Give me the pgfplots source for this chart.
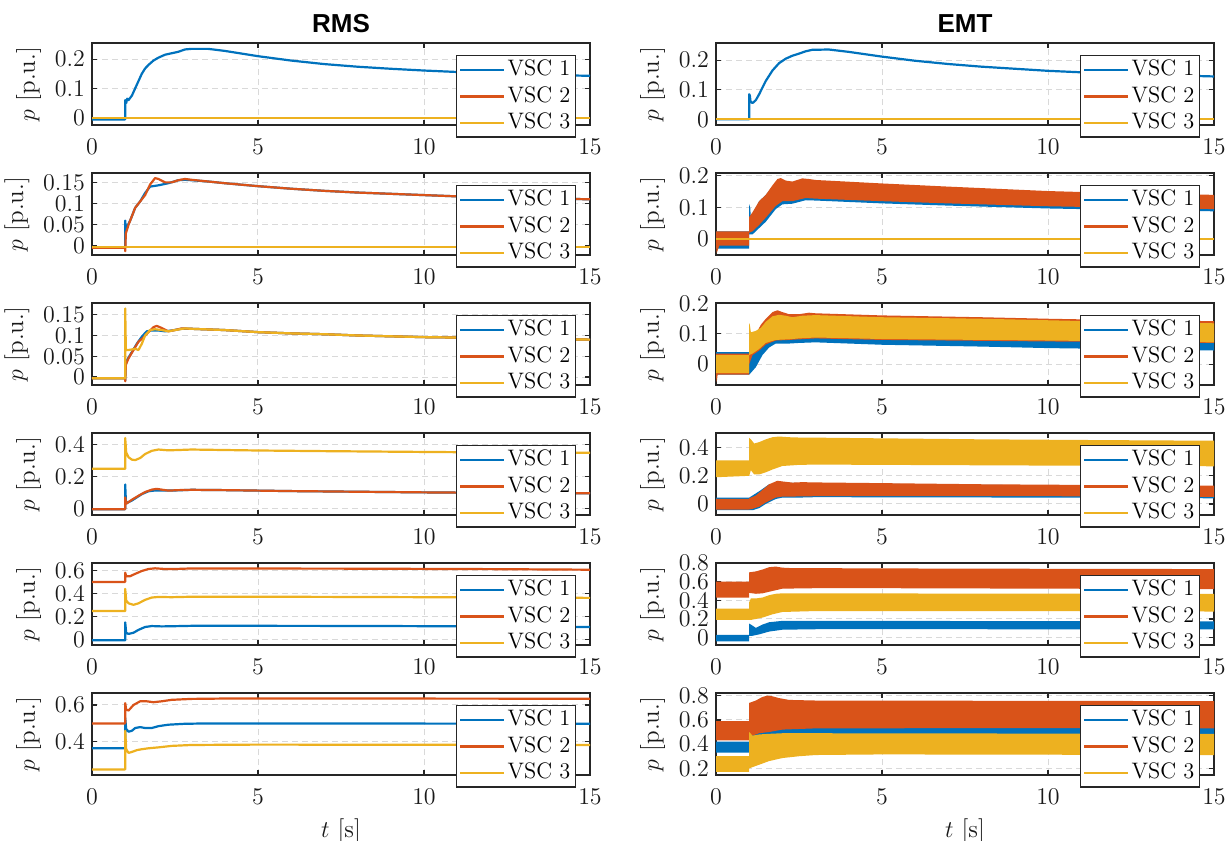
\documentclass[border=0pt]{standalone}
\usepackage{fontspec}
\usepackage{pgfplots}
\pgfplotsset{compat=1.18}
\newfontfamily\titlefont{Liberation Sans}
\definecolor{c1}{rgb}{0,0.447,0.741}
\definecolor{c2}{rgb}{0.85,0.325,0.098}
\definecolor{c3}{rgb}{0.929,0.694,0.125}
\definecolor{axc}{rgb}{0.15,0.15,0.15}
\pgfplotsset{
  myax/.style={
    scale only axis, width=249pt, height=41pt,
    xmin=0, xmax=15, xtick={0,5,10,15},
    grid=major, major grid style={dash pattern=on 3pt off 2pt, black!15, line width=0.5pt},
    tick align=inside, major tick length=2.5pt,
    axis line style={axc, line width=0.7pt},
    tick style={axc, line width=0.6pt},
    ticklabel style={font=\fontsize{11.5}{12}\selectfont, text=black!90},
    x tick label style={yshift=-3.5pt},
    label style={font=\fontsize{12.5}{13}\selectfont, text=black!90},
    ylabel={$p$ [p.u.]},
    y tick label style={/pgf/number format/.cd, fixed, precision=2},
    legend style={at={(0.972,0.854)}, anchor=north east,
      draw=axc, line width=0.6pt, fill=white,
      font=\fontsize{11.2}{12}\selectfont,
      inner xsep=1.5pt, inner ysep=0.5pt, row sep=0pt,
      nodes={inner xsep=1pt, inner ysep=0pt, text height=9.5pt, text depth=3.75pt}},
    legend cell align=left,
    legend image code/.code={\draw[##1] (0pt,0pt) -- (22pt,0pt);},
    title style={at={(0.5,1)}, anchor=base, yshift=-0.5pt, font=\titlefont\bfseries\fontsize{13}{15}\selectfont},
  },
  band/.style={draw=none, fill=#1, forget plot},
  ln/.style={#1, line width=1.1pt, forget plot, line join=round},
}
\newcommand{\legimgs}{%
  \addlegendimage{c1, line width=1.3pt}
  \addlegendimage{c2, line width=1.3pt}
  \addlegendimage{c3, line width=1.3pt}}
\begin{document}
\begin{tikzpicture}
\path[use as bounding box] (0,0) rectangle (613.5pt,-420.5pt);
% ===================== Row 1 =====================
\begin{axis}[myax, at={(46pt,-21.5pt)}, anchor=north west, title={RMS},
  ymin=-0.025, ymax=0.255, ytick={0,0.1,0.2}]
\legimgs
\addplot[ln=c1] coordinates {(0,-0.006)(0.999,-0.006)(1.0,0.06)(1.03,0.05)(1.06,0.065)(1.1,0.06)(1.2,0.075)(1.3,0.1)(1.4,0.125)(1.5,0.15)(1.6,0.168)(1.7,0.18)(1.85,0.195)(2.0,0.205)(2.2,0.215)(2.4,0.22)(2.6,0.225)(2.8,0.233)(3.0,0.235)(3.5,0.235)(4.0,0.228)(4.5,0.219)(5,0.21)(6,0.195)(7,0.183)(8,0.174)(9,0.167)(10,0.161)(11,0.156)(12,0.152)(13,0.148)(14,0.145)(15,0.143)};
\addplot[ln=c2] coordinates {(0,-0.002)(15,-0.002)};
\addplot[ln=c3] coordinates {(0,-0.002)(15,-0.002)};
\legend{VSC 1,VSC 2,VSC 3}
\end{axis}
\begin{axis}[myax, at={(358pt,-21.5pt)}, anchor=north west, title={EMT},
  ymin=-0.019, ymax=0.258, ytick={0,0.1,0.2}]
\legimgs
\addplot[ln=c1] coordinates {(0,0)(0.999,0)(1.0,0.085)(1.02,0.08)(1.04,0.06)(1.1,0.055)(1.2,0.065)(1.3,0.085)(1.5,0.13)(1.7,0.165)(1.9,0.19)(2.1,0.205)(2.3,0.215)(2.5,0.222)(2.7,0.23)(2.9,0.235)(3.4,0.236)(4,0.228)(5,0.212)(6,0.198)(7,0.187)(8,0.178)(9,0.171)(10,0.164)(11,0.159)(12,0.154)(13,0.151)(14,0.148)(15,0.145)};
\addplot[ln=c2] coordinates {(0,0)(15,0)};
\addplot[ln=c3] coordinates {(0,0)(15,0)};
\legend{VSC 1,VSC 2,VSC 3}
\end{axis}
% ===================== Row 2 =====================
\begin{axis}[myax, at={(46pt,-86.5pt)}, anchor=north west,
  ymin=-0.021, ymax=0.172, ytick={0,0.05,0.1,0.15}]
\legimgs
\addplot[ln=c1] coordinates {(0,-0.004)(0.999,-0.004)(1.0,0.06)(1.02,0.04)(1.05,0.045)(1.15,0.06)(1.3,0.09)(1.45,0.105)(1.6,0.125)(1.75,0.14)(2.0,0.143)(2.3,0.148)(2.6,0.155)(2.8,0.156)(3.0,0.155)(3.5,0.152)(4,0.148)(5,0.141)(6,0.135)(7,0.13)(8,0.126)(9,0.123)(10,0.12)(11,0.117)(12,0.115)(13,0.113)(14,0.112)(15,0.11)};
\addplot[ln=c2] coordinates {(0,-0.004)(0.999,-0.004)(1.0,-0.012)(1.02,0.03)(1.1,0.05)(1.3,0.09)(1.45,0.105)(1.6,0.12)(1.75,0.145)(1.9,0.16)(2.0,0.158)(2.2,0.15)(2.4,0.15)(2.6,0.155)(2.8,0.158)(3.0,0.156)(3.5,0.152)(4,0.148)(5,0.141)(6,0.135)(7,0.13)(8,0.126)(9,0.123)(10,0.12)(11,0.117)(12,0.115)(13,0.113)(14,0.112)(15,0.11)};
\addplot[ln=c3] coordinates {(0,-0.002)(15,-0.002)};
\legend{VSC 1,VSC 2,VSC 3}
\end{axis}
\begin{axis}[myax, at={(358pt,-86.5pt)}, anchor=north west,
  ymin=-0.05, ymax=0.209, ytick={0,0.1,0.2}]
\legimgs
\addplot[band=c1] coordinates {(0,0.025)(0.999,0.025)(1.0,0.11)(1.03,0.1)(1.05,0.07)(1.3,0.12)(1.5,0.14)(1.7,0.165)(1.9,0.185)(2.0,0.185)(2.3,0.178)(2.6,0.185)(2.8,0.186)(3,0.182)(5,0.17)(7,0.16)(10,0.147)(12,0.142)(15,0.137)
 (15,0.088)(12,0.093)(10,0.097)(7,0.106)(5,0.113)(3,0.122)(2.7,0.123)(2.3,0.112)(2.0,0.11)(1.8,0.095)(1.5,0.055)(1.3,0.035)(1.1,0.015)(1.0,0.015)(0.999,-0.03)(0,-0.03)};
\addplot[band=c2] coordinates {(0,0.025)(0.999,0.025)(1.0,0.07)(1.1,0.085)(1.3,0.12)(1.5,0.14)(1.7,0.17)(1.85,0.19)(1.95,0.193)(2.1,0.185)(2.3,0.182)(2.6,0.192)(2.8,0.19)(3,0.187)(5,0.176)(7,0.166)(10,0.152)(12,0.146)(15,0.14)
 (15,0.095)(12,0.1)(10,0.104)(7,0.113)(5,0.12)(3,0.128)(2.7,0.13)(2.3,0.12)(2.0,0.12)(1.8,0.105)(1.5,0.068)(1.3,0.045)(1.1,0.025)(1.0,0.02)(0.999,-0.02)(0.1,-0.02)(0.02,-0.045)(0,-0.02)};
\addplot[ln=c3] coordinates {(0,0)(15,0)};
\legend{VSC 1,VSC 2,VSC 3}
\end{axis}
% ===================== Row 3 =====================
\begin{axis}[myax, at={(46pt,-151.5pt)}, anchor=north west,
  ymin=-0.019, ymax=0.178, ytick={0,0.05,0.1,0.15}]
\legimgs
\addplot[ln=c1] coordinates {(0,-0.003)(0.999,-0.003)(1.0,-0.008)(1.02,0.03)(1.05,0.04)(1.2,0.06)(1.35,0.08)(1.5,0.097)(1.65,0.11)(1.8,0.112)(2.0,0.112)(2.2,0.11)(2.4,0.112)(2.7,0.116)(3,0.116)(4,0.113)(5,0.108)(6,0.105)(7,0.103)(8,0.1)(9,0.098)(10,0.096)(11,0.095)(12,0.094)(13,0.092)(14,0.091)(15,0.09)};
\addplot[ln=c2] coordinates {(0,-0.003)(0.999,-0.003)(1.0,-0.01)(1.02,0.03)(1.1,0.045)(1.25,0.065)(1.4,0.085)(1.55,0.095)(1.7,0.108)(1.85,0.12)(1.95,0.123)(2.1,0.118)(2.3,0.11)(2.5,0.113)(2.7,0.117)(3,0.116)(4,0.113)(5,0.108)(6,0.105)(7,0.103)(8,0.1)(9,0.098)(10,0.096)(11,0.095)(12,0.094)(13,0.092)(14,0.091)(15,0.09)};
\addplot[ln=c3] coordinates {(0,-0.003)(0.999,-0.003)(1.0,0.165)(1.02,0.065)(1.1,0.065)(1.3,0.068)(1.4,0.065)(1.5,0.08)(1.6,0.1)(1.75,0.113)(1.9,0.115)(2.1,0.113)(2.3,0.11)(2.5,0.113)(2.8,0.117)(3,0.116)(4,0.113)(5,0.108)(6,0.105)(7,0.103)(8,0.1)(9,0.098)(10,0.096)(11,0.095)(12,0.094)(13,0.092)(14,0.091)(15,0.09)};
\legend{VSC 1,VSC 2,VSC 3}
\end{axis}
\begin{axis}[myax, at={(358pt,-151.5pt)}, anchor=north west,
  ymin=-0.069, ymax=0.202, ytick={0,0.1,0.2}]
\legimgs
\addplot[band=c1] coordinates {(0,0.04)(0.999,0.04)(1.0,0.04)(1.3,0.07)(1.6,0.11)(2,0.13)(3,0.13)(5,0.12)(10,0.11)(15,0.1)
 (15,0.045)(12,0.05)(10,0.053)(8,0.058)(5,0.064)(3,0.072)(2.5,0.07)(2.2,0.068)(1.8,0.068)(1.6,0.055)(1.4,0.03)(1.2,-0.01)(1.0,-0.035)(0.999,-0.035)(0,-0.035)};
\addplot[band=c2] coordinates {(0,0.035)(0.999,0.035)(1.0,0.06)(1.2,0.1)(1.35,0.13)(1.5,0.15)(1.7,0.172)(1.85,0.178)(2.0,0.172)(2.2,0.165)(2.5,0.165)(2.8,0.17)(3,0.168)(5,0.161)(8,0.155)(10,0.15)(12,0.146)(15,0.142)
 (15,0.07)(10,0.075)(5,0.08)(3,0.085)(2.2,0.08)(1.8,0.078)(1.5,0.065)(1.3,0.045)(1.1,0.03)(1.0,0.0)(0.999,-0.035)(0.05,-0.035)(0.02,-0.06)(0,-0.04)};
\addplot[band=c3] coordinates {(0,0.03)(0.999,0.03)(1.0,0.135)(1.02,0.13)(1.05,0.105)(1.2,0.11)(1.35,0.12)(1.5,0.14)(1.7,0.158)(1.9,0.163)(2.1,0.16)(2.3,0.155)(2.6,0.16)(3,0.162)(5,0.155)(8,0.15)(10,0.145)(12,0.14)(15,0.135)
 (15,0.072)(10,0.078)(5,0.083)(3,0.088)(2.5,0.085)(2.2,0.082)(1.8,0.08)(1.5,0.07)(1.3,0.05)(1.1,0.035)(1.0,0.03)(0.999,-0.03)(0,-0.03)};
\legend{VSC 1,VSC 2,VSC 3}
\end{axis}
% ===================== Row 4 =====================
\begin{axis}[myax, at={(46pt,-216.5pt)}, anchor=north west,
  ymin=-0.04, ymax=0.471, ytick={0,0.2,0.4}]
\legimgs
\addplot[ln=c1] coordinates {(0,-0.004)(0.999,-0.004)(1.0,0.15)(1.02,0.05)(1.05,0.035)(1.2,0.05)(1.35,0.07)(1.5,0.09)(1.7,0.108)(1.9,0.113)(2.2,0.112)(2.5,0.113)(3,0.117)(4,0.115)(5,0.112)(6,0.109)(7,0.107)(8,0.105)(10,0.101)(12,0.098)(15,0.095)};
\addplot[ln=c2] coordinates {(0,-0.004)(0.999,-0.004)(1.0,0.07)(1.03,0.03)(1.2,0.055)(1.4,0.08)(1.6,0.103)(1.8,0.118)(1.95,0.123)(2.1,0.118)(2.3,0.112)(2.6,0.115)(3,0.117)(4,0.115)(5,0.112)(6,0.109)(7,0.107)(8,0.105)(10,0.101)(12,0.098)(15,0.095)};
\addplot[ln=c3] coordinates {(0,0.248)(0.999,0.248)(1.0,0.44)(1.03,0.35)(1.1,0.32)(1.2,0.305)(1.3,0.302)(1.45,0.315)(1.6,0.34)(1.8,0.36)(2.0,0.368)(2.3,0.363)(2.6,0.365)(3,0.368)(4,0.365)(5,0.362)(7,0.358)(10,0.353)(12,0.35)(15,0.348)};
\legend{VSC 1,VSC 2,VSC 3}
\end{axis}
\begin{axis}[myax, at={(358pt,-216.5pt)}, anchor=north west,
  ymin=-0.079, ymax=0.505, ytick={0,0.2,0.4}]
\legimgs
\addplot[band=c1] coordinates {(0,0.045)(0.999,0.045)(1.0,0.045)(1.3,0.09)(1.6,0.14)(2,0.15)(15,0.12)
 (15,0.04)(10,0.045)(5,0.047)(3,0.048)(2.5,0.045)(2,0.045)(1.8,0.035)(1.5,0.0)(1.3,-0.03)(1.1,-0.045)(1.0,-0.045)(0.999,-0.045)(0,-0.045)};
\addplot[band=c2] coordinates {(0,0.035)(0.999,0.035)(1.0,0.04)(1.2,0.06)(1.4,0.1)(1.6,0.14)(1.85,0.165)(2.0,0.16)(2.3,0.152)(2.6,0.155)(3,0.153)(5,0.148)(8,0.14)(10,0.137)(12,0.134)(15,0.13)
 (15,0.05)(10,0.055)(5,0.055)(3,0.055)(2.5,0.053)(2,0.052)(1.8,0.045)(1.5,0.01)(1.3,-0.02)(1.1,-0.035)(1.0,-0.04)(0.999,-0.04)(0,-0.04)};
\addplot[band=c3] coordinates {(0,0.31)(0.999,0.31)(1.0,0.47)(1.05,0.46)(1.15,0.43)(1.3,0.44)(1.5,0.46)(1.7,0.475)(1.9,0.48)(2.2,0.475)(2.6,0.472)(3,0.472)(5,0.467)(8,0.46)(10,0.457)(12,0.454)(15,0.45)
 (15,0.268)(10,0.273)(5,0.278)(3,0.28)(2.5,0.278)(2.0,0.27)(1.7,0.245)(1.5,0.225)(1.3,0.21)(1.15,0.21)(1.05,0.24)(1.0,0.2)(0.999,0.2)(0,0.19)};
\legend{VSC 1,VSC 2,VSC 3}
\end{axis}
% ===================== Row 5 =====================
\begin{axis}[myax, at={(46pt,-281.5pt)}, anchor=north west,
  ymin=-0.046, ymax=0.664, ytick={0,0.2,0.4,0.6}]
\legimgs
\addplot[ln=c1] coordinates {(0,-0.005)(0.999,-0.005)(1.0,0.15)(1.03,0.06)(1.1,0.05)(1.25,0.06)(1.4,0.085)(1.6,0.11)(1.8,0.118)(2.1,0.115)(2.5,0.117)(3,0.12)(5,0.12)(8,0.119)(10,0.117)(12,0.115)(15,0.11)};
\addplot[ln=c2] coordinates {(0,0.5)(0.999,0.5)(1.0,0.58)(1.03,0.55)(1.15,0.55)(1.3,0.57)(1.5,0.595)(1.7,0.612)(1.9,0.618)(2.2,0.612)(2.6,0.613)(3,0.617)(5,0.616)(8,0.615)(10,0.613)(12,0.611)(15,0.606)};
\addplot[ln=c3] coordinates {(0,0.248)(0.999,0.248)(1.0,0.44)(1.03,0.34)(1.1,0.315)(1.25,0.302)(1.4,0.315)(1.6,0.345)(1.8,0.365)(2.0,0.37)(2.4,0.368)(3,0.372)(5,0.372)(8,0.37)(10,0.368)(12,0.366)(15,0.362)};
\legend{VSC 1,VSC 2,VSC 3}
\end{axis}
\begin{axis}[myax, at={(358pt,-281.5pt)}, anchor=north west,
  ymin=-0.079, ymax=0.8, ytick={0,0.2,0.4,0.6,0.8}]
\legimgs
\addplot[band=c1] coordinates {(0,0.03)(0.999,0.03)(1.0,0.15)(1.05,0.14)(1.2,0.105)(1.4,0.14)(1.6,0.165)(2,0.18)(3,0.18)(8,0.178)(15,0.175)
 (15,0.088)(8,0.09)(3,0.09)(2,0.085)(1.6,0.065)(1.3,0.035)(1.1,0.02)(1.0,0.02)(0.999,-0.04)(0,-0.04)};
\addplot[band=c2] coordinates {(0,0.6)(0.999,0.6)(1.0,0.7)(1.2,0.71)(1.4,0.73)(1.6,0.755)(1.8,0.762)(2.0,0.75)(2.3,0.745)(3,0.745)(5,0.742)(10,0.738)(15,0.735)
 (15,0.52)(10,0.525)(5,0.53)(3,0.53)(2,0.525)(1.7,0.5)(1.4,0.475)(1.2,0.47)(1.0,0.48)(0.999,0.43)(0,0.43)};
\addplot[band=c3] coordinates {(0,0.31)(0.999,0.31)(1.0,0.38)(1.05,0.42)(1.2,0.42)(1.4,0.43)(1.6,0.455)(1.8,0.47)(2,0.475)(3,0.475)(8,0.472)(15,0.47)
 (15,0.28)(8,0.285)(3,0.285)(2,0.275)(1.7,0.25)(1.4,0.215)(1.2,0.2)(1.05,0.19)(1.0,0.19)(0.999,0.19)(0,0.19)};
\legend{VSC 1,VSC 2,VSC 3}
\end{axis}
% ===================== Row 6 =====================
\begin{axis}[myax, at={(46pt,-346.5pt)}, anchor=north west,
  ymin=0.22, ymax=0.665, ytick={0.4,0.6}, xlabel={$t$ [s]}]
\legimgs
\addplot[ln=c1] coordinates {(0,0.365)(0.999,0.365)(1.0,0.53)(1.03,0.47)(1.1,0.455)(1.2,0.46)(1.3,0.475)(1.45,0.48)(1.6,0.475)(1.8,0.475)(2.0,0.485)(2.3,0.493)(2.8,0.498)(3.5,0.5)(5,0.5)(10,0.499)(15,0.498)};
\addplot[ln=c2] coordinates {(0,0.5)(0.999,0.5)(1.0,0.61)(1.03,0.575)(1.1,0.57)(1.25,0.6)(1.45,0.62)(1.65,0.62)(1.85,0.615)(2.1,0.62)(2.4,0.628)(3,0.633)(4,0.635)(8,0.635)(15,0.634)};
\addplot[ln=c3] coordinates {(0,0.25)(0.999,0.25)(1.0,0.46)(1.03,0.36)(1.1,0.34)(1.2,0.345)(1.35,0.355)(1.5,0.36)(1.7,0.365)(2,0.37)(2.4,0.378)(3,0.383)(5,0.385)(10,0.384)(15,0.383)};
\legend{VSC 1,VSC 2,VSC 3}
\end{axis}
\begin{axis}[myax, at={(358pt,-346.5pt)}, anchor=north west,
  ymin=0.145, ymax=0.822, ytick={0.2,0.4,0.6,0.8}, xlabel={$t$ [s]}]
\legimgs
\addplot[band=c1] coordinates {(0,0.42)(0.999,0.42)(1.0,0.55)(15,0.58)
 (15,0.48)(5,0.485)(3,0.48)(2,0.475)(1.5,0.47)(1.0,0.46)(0.999,0.33)(0,0.33)};
\addplot[band=c2] coordinates {(0,0.59)(0.999,0.59)(1.0,0.74)(1.2,0.76)(1.4,0.79)(1.55,0.8)(1.7,0.795)(1.9,0.78)(2.2,0.765)(3,0.76)(8,0.758)(15,0.755)
 (15,0.53)(8,0.532)(3,0.53)(2.5,0.525)(2,0.52)(1.6,0.5)(1.3,0.49)(1.1,0.47)(1.0,0.47)(0.999,0.43)(0,0.43)};
\addplot[band=c3] coordinates {(0,0.3)(0.999,0.3)(1.0,0.5)(1.1,0.47)(1.3,0.48)(1.6,0.485)(2,0.49)(3,0.49)(15,0.485)
 (15,0.31)(5,0.315)(3,0.31)(2.5,0.3)(2,0.285)(1.6,0.26)(1.3,0.23)(1.1,0.21)(1.0,0.2)(0.999,0.17)(0,0.17)};
\legend{VSC 1,VSC 2,VSC 3}
\end{axis}
\end{tikzpicture}
\end{document}
